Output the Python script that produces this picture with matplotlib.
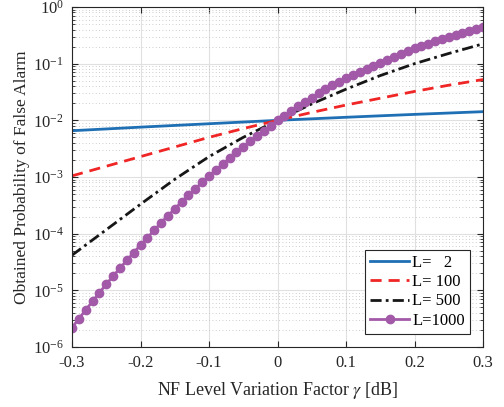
import numpy as np
import matplotlib
matplotlib.use('Agg')
import matplotlib.pyplot as plt
from matplotlib.ticker import LogLocator, NullFormatter

# NF level variation factor (dB)
gamma_coarse = [-0.30, -0.25, -0.20, -0.15, -0.10, -0.05, 0.00,
                0.05, 0.10, 0.15, 0.20, 0.25, 0.30]
gamma_fine = [round(-0.30 + 0.01 * i, 2) for i in range(61)]

# log10 of obtained Pfa
log_pfa_L2 = [-2.183, -2.152, -2.12, -2.09, -2.06, -2.03, -2.0,
              -1.973, -1.946, -1.92, -1.895, -1.871, -1.847]
log_pfa_L100 = [-2.98, -2.81, -2.64, -2.47, -2.30, -2.145, -2.0,
                -1.86, -1.73, -1.61, -1.49, -1.38, -1.28]
log_pfa_L500 = [-4.38, -3.93, -3.48, -3.04, -2.64, -2.30, -2.0,
                -1.71, -1.45, -1.21, -1.00, -0.82, -0.65]
log_pfa_L1000 = [-5.66, -5.50, -5.347, -5.193, -5.041, -4.893, -4.747, -4.611,
                 -4.470, -4.336, -4.200, -4.071, -3.940, -3.806, -3.683, -3.564,
                 -3.436, -3.323, -3.206, -3.093, -2.982, -2.876, -2.770, -2.670,
                 -2.564, -2.465, -2.370, -2.276, -2.188, -2.100, -2.000,
                 -1.918, -1.835, -1.752, -1.676, -1.600, -1.523, -1.452, -1.382,
                 -1.318, -1.253, -1.194, -1.141, -1.088, -1.035, -0.982,
                 -0.928, -0.876, -0.826, -0.778, -0.732, -0.688, -0.645, -0.603,
                 -0.563, -0.524, -0.486, -0.450, -0.415, -0.381, -0.348]

plt.rcParams['font.family'] = ['Liberation Serif', 'DejaVu Serif']
plt.rcParams['mathtext.fontset'] = 'stix'
plt.rcParams['font.size'] = 12

fig = plt.figure(figsize=(5.04, 4.07), dpi=100)
ax = fig.add_axes([0.1429, 0.1474, 0.8155, 0.8354])

ax.semilogy(gamma_coarse, 10 ** np.array(log_pfa_L2), color='#1f6fb4', lw=2, label='L=   2')
ax.semilogy(gamma_coarse, 10 ** np.array(log_pfa_L100), color='#f02525', lw=2,
            linestyle=(0, (4, 2.5)), label='L= 100')
ax.semilogy(gamma_coarse, 10 ** np.array(log_pfa_L500), color='#161616', lw=2,
            linestyle=(0, (4, 1.5, 1, 1.5)), label='L= 500')
ax.semilogy(gamma_fine, 10 ** np.array(log_pfa_L1000), color='#a25aa8', lw=2,
            marker='o', markersize=6, label='L=1000')

ax.set_xlim(-0.3, 0.3)
ax.set_ylim(1e-6, 1)
ax.set_xticks([-0.3, -0.2, -0.1, 0, 0.1, 0.2, 0.3])
ax.set_xticklabels(['-0.3', '-0.2', '-0.1', '0', '0.1', '0.2', '0.3'])
ax.yaxis.set_major_locator(LogLocator(base=10, numticks=10))
ax.yaxis.set_minor_locator(LogLocator(base=10, subs=np.arange(2, 10), numticks=20))
ax.yaxis.set_minor_formatter(NullFormatter())

ax.grid(True, which='major', color='#e0e0e0', lw=0.8)
ax.grid(True, which='minor', axis='y', color='#bdbdbd', lw=0.6, linestyle=(0, (1, 3)))
ax.set_axisbelow(True)

ax.tick_params(which='both', direction='in', top=True, right=True, colors='#262626',
               labelsize=12)
ax.tick_params(which='major', length=4, pad=6)
ax.tick_params(which='minor', length=2)
for s in ax.spines.values():
    s.set_color('#262626')
    s.set_linewidth(0.8)

ax.set_xlabel(r'NF Level Variation Factor $\gamma$ [dB]', color='#262626', fontsize=13,
              labelpad=6)
ax.set_ylabel('Obtained Probability of False Alarm', color='#262626', fontsize=12.5,
              labelpad=2)

leg = ax.legend(loc='lower right', fancybox=False, framealpha=1, edgecolor='#262626',
                fontsize=12, handlelength=2.3, borderpad=0.3, labelspacing=0.2,
                handletextpad=0.2, borderaxespad=0.8)
leg.get_frame().set_linewidth(0.8)

fig.savefig('out.png', dpi=100)
